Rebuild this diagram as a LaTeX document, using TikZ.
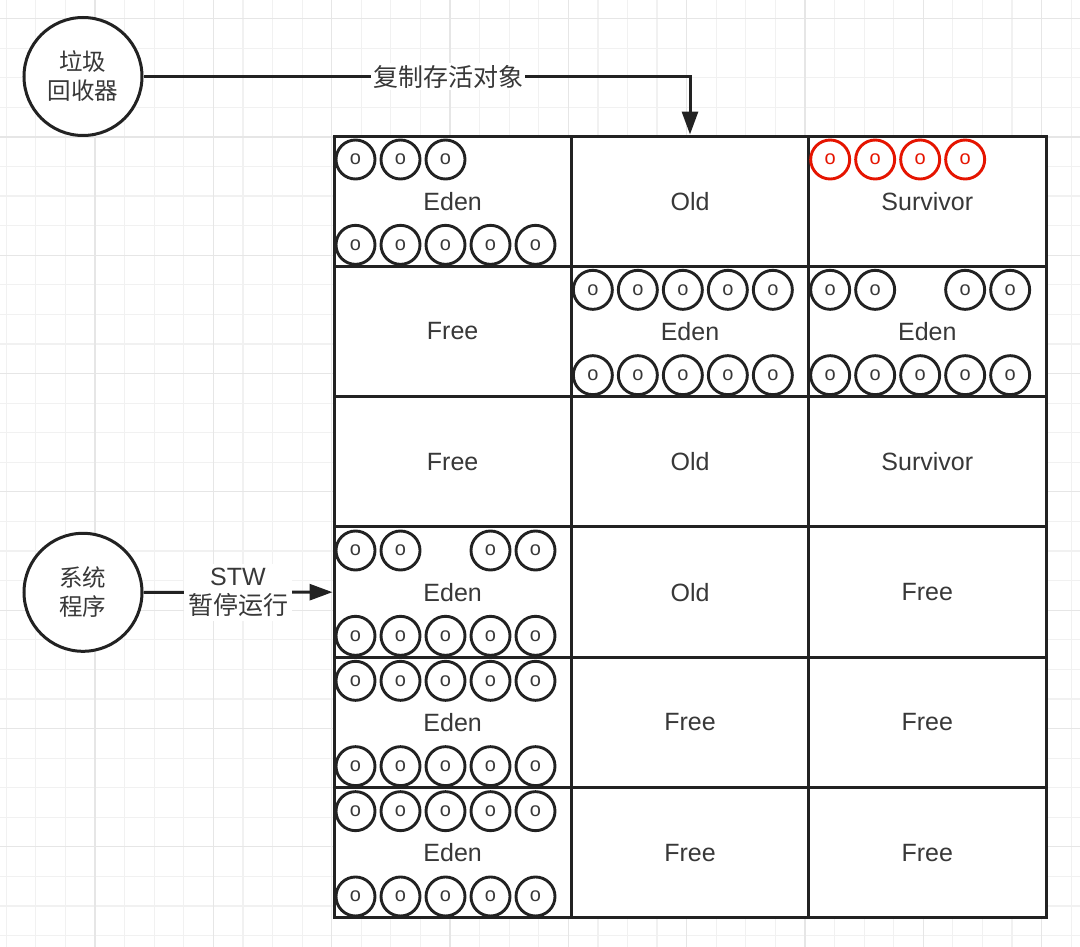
\documentclass[tikz,border=0pt]{standalone}
\usepackage{fontspec}
\setmainfont{Liberation Sans}
\newfontfamily\cjk{Noto Sans CJK SC}
\usetikzlibrary{arrows.meta}
\definecolor{ln}{HTML}{222222}
\definecolor{tx}{HTML}{383838}
\definecolor{gmin}{HTML}{F1F1F1}
\definecolor{gmaj}{HTML}{E6E6E6}
\definecolor{rd}{HTML}{E51400}
\begin{document}
\begin{tikzpicture}[x=1pt,y=-1pt,
  cell/.style={draw=ln, line width=3pt, fill=white, minimum width=237.33pt, minimum height=130.33pt, inner sep=0pt, text=tx, font=\fontsize{25}{28}\selectfont},
  blob/.style={circle, draw=ln, line width=2.9pt, fill=white, minimum size=39pt, inner sep=0pt, text=tx, font=\fontsize{20}{20}\selectfont},
  redblob/.style={blob, draw=rd, text=rd},
  actor/.style={circle, draw=ln, line width=3pt, fill=white, minimum size=118pt, inner sep=0pt, text=tx, align=center, font=\cjk\fontsize{23.5}{29}\selectfont},
  conn/.style={draw=ln, line width=3pt, -{Triangle[length=23pt,width=16pt]}},
  lbl/.style={fill=white, text=tx, inner sep=2pt, align=center, font=\fontsize{25}{30}\selectfont}
]
\useasboundingbox (0,0) rectangle (1080,947);
\fill[white] (0,0) rectangle (1080,947);
% grid
\foreach \i in {0,...,36} \draw[gmin, line width=1.2pt] ({6.3+\i*29.58},0) -- ({6.3+\i*29.58},947);
\foreach \i in {0,...,31} \draw[gmin, line width=1.2pt] (0,{18.6+\i*29.58}) -- (1080,{18.6+\i*29.58});
\foreach \i in {0,...,8} \draw[gmaj, line width=1.2pt] ({95+\i*118.32},0) -- ({95+\i*118.32},947);
\foreach \i in {0,...,7} \draw[gmaj, line width=1.2pt] (0,{18.6+\i*118.32}) -- (1080,{18.6+\i*118.32});

% cells
\foreach \r/\a/\b/\c in {1/Eden/Old/Survivor, 2/Free/Eden/Eden, 3/Free/Old/Survivor, 4/Eden/Old/Free, 5/Eden/Free/Free, 6/Eden/Free/Free} {
  \node[cell] (c-\r-1) at (452.67, {136+65.17+(\r-1)*130.33}) {\a};
  \node[cell] (c-\r-2) at (690,    {136+65.17+(\r-1)*130.33}) {\b};
  \node[cell] (c-\r-3) at (927.33, {136+65.17+(\r-1)*130.33}) {\c};
}

% objects
\foreach \k in {0,1,2} \node[blob] (t-1-1-\k) at ([shift={({23+45*\k},25)}]c-1-1.north west) {o};
\foreach \k in {0,...,4} \node[blob] (b-1-1-\k) at ([shift={({23+45*\k},-23)}]c-1-1.south west) {o};
\foreach \k in {0,...,3} \node[redblob] (t-1-3-\k) at ([shift={({23+45*\k},25)}]c-1-3.north west) {o};
\foreach \k in {0,...,4} \node[blob] (t-2-2-\k) at ([shift={({23+45*\k},25)}]c-2-2.north west) {o};
\foreach \k in {0,...,4} \node[blob] (b-2-2-\k) at ([shift={({23+45*\k},-23)}]c-2-2.south west) {o};
\foreach \k in {0,1,3,4} \node[blob] (t-2-3-\k) at ([shift={({23+45*\k},25)}]c-2-3.north west) {o};
\foreach \k in {0,...,4} \node[blob] (b-2-3-\k) at ([shift={({23+45*\k},-23)}]c-2-3.south west) {o};
\foreach \k in {0,1,3,4} \node[blob] (t-4-1-\k) at ([shift={({23+45*\k},25)}]c-4-1.north west) {o};
\foreach \k in {0,...,4} \node[blob] (b-4-1-\k) at ([shift={({23+45*\k},-23)}]c-4-1.south west) {o};
\foreach \k in {0,...,4} \node[blob] (t-5-1-\k) at ([shift={({23+45*\k},25)}]c-5-1.north west) {o};
\foreach \k in {0,...,4} \node[blob] (b-5-1-\k) at ([shift={({23+45*\k},-23)}]c-5-1.south west) {o};
\foreach \k in {0,...,4} \node[blob] (t-6-1-\k) at ([shift={({23+45*\k},25)}]c-6-1.north west) {o};
\foreach \k in {0,...,4} \node[blob] (b-6-1-\k) at ([shift={({23+45*\k},-23)}]c-6-1.south west) {o};

% actors
\node[actor] (gc) at (83,76.5) {垃圾\\回收器};
\node[actor] (sys) at (83,592.3) {系统\\程序};

% connectors
\draw[conn] (gc.east) -| node[lbl, pos=0.279] {\cjk 复制存活对象} (c-1-2.north);
\draw[conn] (sys.east) -- node[lbl, inner sep=4pt] {STW\\[-1pt]{\cjk 暂停运行}} (c-4-1.west);
\end{tikzpicture}
\end{document}
